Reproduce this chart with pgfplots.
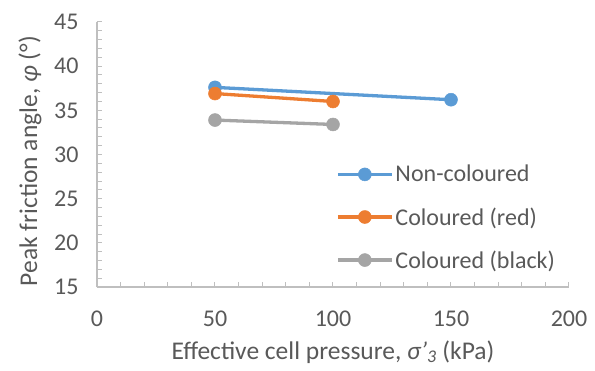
\documentclass[border=0pt]{standalone}
\usepackage{fontspec}
\setmainfont{Carlito}
\usepackage{pgfplots}
\pgfplotsset{compat=1.18}
\definecolor{txt}{HTML}{595959}
\definecolor{axc}{HTML}{BFBFBF}
\definecolor{cblue}{HTML}{5B9BD5}
\definecolor{corange}{HTML}{ED7D31}
\definecolor{cgray}{HTML}{A5A5A5}
\begin{document}
\begin{tikzpicture}
\path[use as bounding box] (-97pt,-83pt) rectangle (498pt,287pt);
\begin{axis}[
  at={(0pt,0pt)}, anchor=south west,
  scale only axis, width=472pt, height=265pt,
  xmin=0, xmax=200, ymin=15, ymax=45,
  xtick={0,50,...,200}, ytick={15,20,...,45},
  minor x tick num=4, minor y tick num=4,
  axis x line*=bottom, axis y line*=left,
  axis line style={axc, line width=1.8pt, -},
  tick style={axc, line width=1pt},
  tick align=inside,
  major tick length=5pt, minor tick length=5pt,
  /pgf/number format/assume math mode=true,
  ticklabel style={font=\fontsize{24}{28}\selectfont, text=txt},
  xticklabel style={anchor=center, yshift=-32pt},
  yticklabel style={xshift=-15pt},
  label style={font=\fontsize{25.5}{30}\selectfont, text=txt},
  xlabel style={at={(axis description cs:0.5,-0.245)}, anchor=center},
  ylabel style={at={(axis description cs:-0.142,0.475)}, anchor=center},
  xlabel={Effective cell pressure, \textit{σ'}\textsubscript{\textit{3}} (kPa)},
  ylabel={Peak friction angle, \textit{φ} (°)},
  legend style={at={(0.5,0.475)}, anchor=north west, draw=none, fill=none,
    font=\fontsize{24}{28}\selectfont, text=txt, row sep=20pt},
  legend cell align=left,
  legend image code/.code={\draw[mark repeat=2,mark phase=2] plot coordinates {(0pt,0pt) (27pt,0pt) (54pt,0pt)};},
]
\addplot[cblue, line width=3.3pt, mark=*, mark size=6.5pt, mark options={line width=0.5pt, fill=cblue, draw=cblue}] coordinates {(50,37.6) (150,36.2)};
\addlegendentry{Non-coloured}
\addplot[corange, line width=3.3pt, mark=*, mark size=6.5pt, mark options={line width=0.5pt, fill=corange, draw=corange}] coordinates {(50,36.9) (100,36.0)};
\addlegendentry{Coloured (red)}
\addplot[cgray, line width=3.3pt, mark=*, mark size=6.5pt, mark options={line width=0.5pt, fill=cgray, draw=cgray}] coordinates {(50,33.9) (100,33.4)};
\addlegendentry{Coloured (black)}
\end{axis}
\end{tikzpicture}
\end{document}
